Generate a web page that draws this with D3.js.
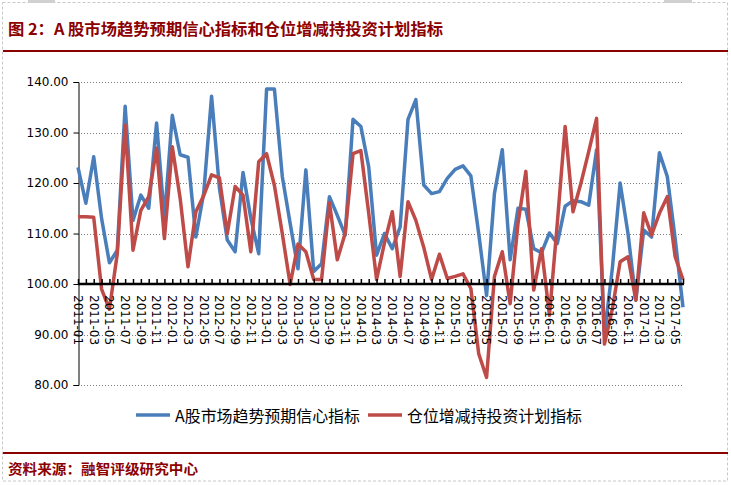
<!DOCTYPE html>
<html>
<head>
<meta charset="utf-8">
<script src="https://cdn.jsdelivr.net/npm/d3@7"></script>
<style>
  body { margin: 0; background: #fff; }
  svg { display: block; font-family: "DejaVu Sans", sans-serif; }
</style>
</head>
<body>
<div id="chart"></div>
<script>
// monthly categories 2011-01 .. 2017-06
const months = d3.timeMonths(new Date(2011, 0, 1), new Date(2017, 6, 1)).map(d3.timeFormat("%Y-%m"));

const confidence = [
  123.1, 116.0, 125.2, 113.0, 104.2, 106.7, 135.2, 112.6, 117.6, 115.0, 131.9, 113.0, 133.4, 125.6, 125.1, 109.3,
  118.0, 137.2, 119.0, 108.7, 106.4, 122.1, 113.0, 106.0, 138.6, 138.6, 121.3, 112.0, 103.0, 122.6,
  102.5, 104.0, 117.3, 113.6, 109.7, 132.6, 131.2, 123.2, 105.7, 110.0, 107.0, 111.3, 132.6, 136.5, 119.6, 117.9,
  118.3, 120.9, 122.7, 123.4, 121.4, 110.0, 97.7, 117.9, 126.6, 104.8, 115.0, 114.8, 107.0, 106.2,
  110.1, 108.0, 115.4, 116.5, 116.3, 115.6, 126.6, 90.0, 103.0, 120.0, 110.0, 96.8, 110.7, 109.3, 126.0, 121.3, 109.0, 95.4
];

const position = [
  113.3, 113.3, 113.2, 99.0, 95.0, 106.0, 131.5, 106.7, 114.6, 117.3, 126.9, 109.0, 127.2, 117.0, 103.4, 114.3,
  117.5, 121.6, 121.0, 110.0, 119.3, 117.6, 106.4, 124.2, 125.8, 119.5, 110.0, 99.9, 107.9, 106.4,
  100.9, 100.9, 116.1, 104.8, 110.0, 125.8, 126.4, 114.0, 100.9, 108.1, 114.3, 101.5, 116.3, 112.6, 107.3, 100.9,
  105.9, 101.1, 101.5, 102.0, 99.1, 86.2, 81.5, 101.5, 106.4, 96.1, 112.0, 122.3, 98.8, 107.0,
  93.8, 112.0, 131.2, 114.3, 119.9, 126.2, 132.8, 88.1, 95.0, 104.4, 105.4, 96.8, 114.1, 109.7, 114.0, 117.3, 105.4, 100.9
];

const yTicks = [80, 90, 100, 110, 120, 130, 140];
const seriesNames = ["A股市场趋势预期信心指标", "仓位增减持投资计划指标"];
const colors = ["#4a7ebb", "#be4b48"];

const width = 731;
const height = 485;
const plot = { left: 78, right: 683, top: 82, bottom: 385 };
const darkRed = "#8c0000";

const svg = d3.select("#chart")
  .append("svg")
  .attr("width", width)
  .attr("height", height);

// page frame
svg.append("rect")
  .attr("x", 2.5).attr("y", 2.5)
  .attr("width", 725).attr("height", 478.5)
  .attr("fill", "none")
  .attr("stroke", "#c8c8c8")
  .attr("stroke-dasharray", "3,2");

svg.append("rect").attr("x", 28).attr("y", 0).attr("width", 27).attr("height", 3).attr("fill", "#d0d0d0");
svg.append("rect").attr("x", 664).attr("y", 0).attr("width", 28).attr("height", 3).attr("fill", "#d0d0d0");

svg.append("text")
  .attr("x", 8)
  .attr("y", 35)
  .attr("textLength", 435)
  .attr("lengthAdjust", "spacingAndGlyphs")
  .style("font-family", "'Noto Sans CJK SC', sans-serif")
  .style("font-size", "16px")
  .style("font-weight", "bold")
  .style("fill", darkRed)
  .text("图 2：A 股市场趋势预期信心指标和仓位增减持投资计划指标");

svg.append("line")
  .attr("x1", 3).attr("x2", 728)
  .attr("y1", 51).attr("y2", 51)
  .attr("stroke", darkRed).attr("stroke-width", 2);

svg.append("line")
  .attr("x1", 3).attr("x2", 728)
  .attr("y1", 453).attr("y2", 453)
  .attr("stroke", darkRed).attr("stroke-width", 2);

svg.append("text")
  .attr("x", 8)
  .attr("y", 474)
  .attr("textLength", 190)
  .attr("lengthAdjust", "spacingAndGlyphs")
  .style("font-family", "'Noto Sans CJK SC', sans-serif")
  .style("font-size", "14px")
  .style("font-weight", "bold")
  .style("fill", darkRed)
  .text("资料来源：融智评级研究中心");

// scales
const xScale = d3.scalePoint()
  .domain(months)
  .range([plot.left, plot.right]);

const yScale = d3.scaleLinear()
  .domain([80, 140])
  .range([plot.bottom, plot.top]);

// dotted gridlines
svg.append("g")
  .selectAll("line")
  .data(yTicks)
  .enter()
  .append("line")
  .attr("x1", plot.left)
  .attr("x2", plot.right)
  .attr("y1", (d) => Math.round(yScale(d)) + 0.5)
  .attr("y2", (d) => Math.round(yScale(d)) + 0.5)
  .attr("stroke", "#808080")
  .attr("stroke-dasharray", "1,2");

// y axis
const yAxis = d3.axisLeft(yScale)
  .tickValues(yTicks)
  .tickSize(5)
  .tickFormat(d3.format(".2f"));

const yAxisG = svg.append("g")
  .attr("transform", `translate(${plot.left + 0.5},0)`)
  .call(yAxis);
yAxisG.select(".domain").attr("stroke", "#000");
yAxisG.selectAll(".tick line").attr("stroke", "#000");
yAxisG.selectAll(".tick text")
  .attr("x", -10)
  .style("font-family", "'DejaVu Sans', sans-serif")
  .style("font-size", "12px")
  .style("fill", "#000");

// lines
const line = d3.line()
  .x((d, i) => xScale(months[i]))
  .y((d) => yScale(d));

[confidence, position].forEach((series, k) => {
  svg.append("path")
    .datum(series)
    .attr("fill", "none")
    .attr("stroke", colors[k])
    .attr("stroke-width", 3.5)
    .attr("stroke-linejoin", "round")
    .attr("d", line);
});

// x axis crossing at 100, ticks pointing up
const xAxis = d3.axisTop(xScale)
  .tickSize(5)
  .tickFormat("");

const xAxisG = svg.append("g")
  .attr("transform", `translate(0,${yScale(100)})`)
  .call(xAxis);
xAxisG.select(".domain").remove();
xAxisG.selectAll(".tick line").attr("stroke", "#000").attr("stroke-width", 1.5);
xAxisG.append("line")
  .attr("x1", plot.left)
  .attr("x2", plot.right + 1)
  .attr("stroke", "#000")
  .attr("stroke-width", 2.5);

// rotated month labels, every other month
svg.append("g")
  .selectAll("text")
  .data(months.filter((d, i) => i % 2 === 0))
  .enter()
  .append("text")
  .attr("transform", (d) => `translate(${xScale(d)},${yScale(100) + 11}) rotate(90)`)
  .attr("dy", "0.35em")
  .style("font-size", "12px")
  .style("fill", "#000")
  .text((d) => d);

// legend
const legend = svg.append("g")
  .attr("transform", "translate(0,415)");

const legendItems = [
  { x1: 136, x2: 170, tx: 175, w: 185 },
  { x1: 368, x2: 402, tx: 407, w: 175 }
];

legendItems.forEach((item, k) => {
  legend.append("line")
    .attr("x1", item.x1).attr("x2", item.x2)
    .attr("stroke", colors[k])
    .attr("stroke-width", 3.5);
  legend.append("text")
    .attr("x", item.tx)
    .attr("y", 7)
    .attr("textLength", item.w)
    .attr("lengthAdjust", "spacingAndGlyphs")
    .style("font-family", "'Noto Sans CJK SC', sans-serif")
    .style("font-size", "16px")
    .style("fill", "#000")
    .text(seriesNames[k]);
});
</script>
</body>
</html>
